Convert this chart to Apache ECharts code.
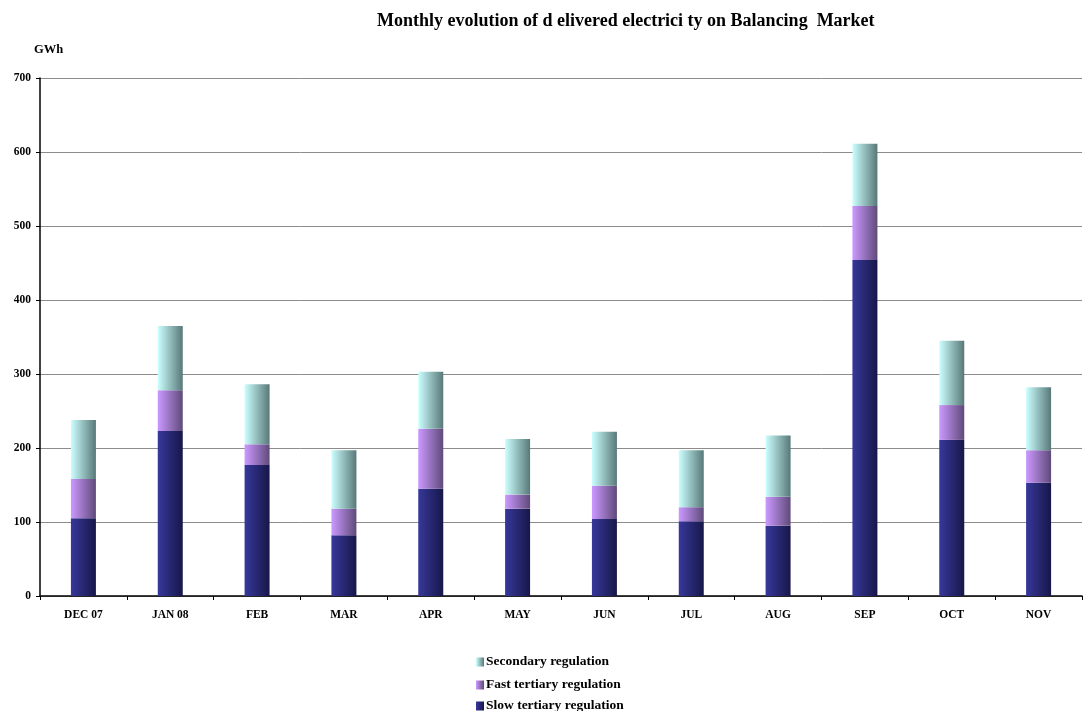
<!DOCTYPE html>
<html><head><meta charset="utf-8">
<script src="https://cdn.jsdelivr.net/npm/echarts@6/dist/echarts.min.js"></script>
<style>html,body{margin:0;padding:0;background:#fff}#c{width:1083px;height:711px}</style>
</head><body><div id="c"></div>
<script>
const categories = ['DEC 07','JAN 08','FEB','MAR','APR','MAY','JUN','JUL','AUG','SEP','OCT','NOV'];
const slowTertiary = [105,223,177,82,145,118,104,101,95,454,211,153];
const fastTertiary = [53,55,28,36,81,19,45,19,39,73,47,44];
const secondary = [80,87,81,79,77,75,73,77,83,84,87,85];
const yTicks = [0,100,200,300,400,500,600,700];
const legendOrder = ['Secondary regulation','Fast tertiary regulation','Slow tertiary regulation'];

const font = '"Liberation Serif","Times New Roman",serif';
function grad(a,b){return new echarts.graphic.LinearGradient(0,0,1,0,[{offset:0,color:a},{offset:1,color:b}]);}
const legendTops = [655,678,699];

const chart = echarts.init(document.getElementById('c'));
chart.setOption({
  animation:false,
  backgroundColor:'#fff',
  title:{text:'Monthly evolution of d elivered electrici ty on Balancing  Market',left:377,top:12,padding:0,
    textStyle:{fontFamily:font,fontWeight:'bold',fontSize:18,color:'#000'}},
  grid:{left:40,right:1,top:78,bottom:115},
  legend:legendOrder.map((n,i)=>({orient:'vertical',left:476,top:legendTops[i],padding:0,itemWidth:8,itemHeight:9,
    icon:'rect',data:[n],
    textStyle:{fontFamily:font,fontWeight:'bold',fontSize:13.5,color:'#000',padding:[0,0,0,-3]}})),
  xAxis:{type:'category',data:categories,
    axisLine:{lineStyle:{color:'#000',width:1.5}},
    axisTick:{show:true,alignWithLabel:false,length:4,lineStyle:{color:'#000'}},
    axisLabel:{fontFamily:font,fontWeight:'bold',fontSize:11.5,color:'#000',margin:13}},
  yAxis:{type:'value',min:yTicks[0],max:yTicks[yTicks.length-1],interval:100,
    name:'GWh',nameLocation:'end',nameGap:22,
    nameTextStyle:{fontFamily:font,fontWeight:'bold',fontSize:12.5,color:'#000',align:'left',padding:[0,0,0,-6]},
    axisLine:{show:true,lineStyle:{color:'#000',width:1.5}},
    axisTick:{show:true,length:4,lineStyle:{color:'#000'}},
    axisLabel:{fontFamily:font,fontWeight:'bold',fontSize:11.5,color:'#000',margin:9},
    splitLine:{lineStyle:{color:'#8c8c8c',width:1}}},
  series:[
    {name:'Slow tertiary regulation',type:'bar',stack:'a',barWidth:25,data:slowTertiary,
      itemStyle:{color:grad('#37389a','#17174a')}},
    {name:'Fast tertiary regulation',type:'bar',stack:'a',barWidth:25,data:fastTertiary,
      itemStyle:{color:grad('#cc99ff','#5f4a7a')}},
    {name:'Secondary regulation',type:'bar',stack:'a',barWidth:25,data:secondary,
      itemStyle:{color:grad('#ccffff','#587878')}}
  ]
});
</script></body></html>
